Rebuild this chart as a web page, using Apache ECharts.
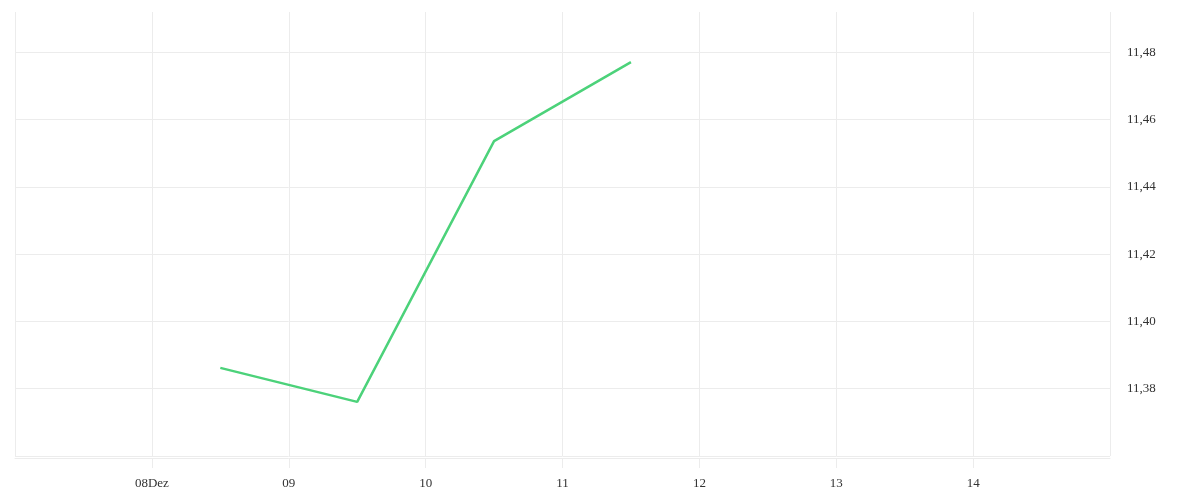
<!DOCTYPE html>
<html>
<head>
<meta charset="utf-8">
<script src="https://cdn.jsdelivr.net/npm/echarts@6/dist/echarts.min.js"></script>
<style>html,body{margin:0;padding:0;background:#fff}#c{width:1200px;height:500px}</style>
</head>
<body>
<div id="c"></div>
<script>
const dates = ['2025-12-08T12:00:00Z', '2025-12-09T12:00:00Z', '2025-12-10T12:00:00Z', '2025-12-11T12:00:00Z'];
const prices = [11.3862, 11.3761, 11.4536, 11.4771];
const xStart = '2025-12-07T00:00:00Z';
const xEnd = '2025-12-15T00:00:00Z';
const monthName = 'Dez';

const DAY = 86400000;
const chart = echarts.init(document.getElementById('c'));
const font = 'Liberation Serif';
const grid = '#ececec';
const minX = Date.parse(xStart);
const firstLabel = minX + DAY;
chart.setOption({
  animation: false,
  grid: { left: 15, right: 90, top: 12, bottom: 44 },
  xAxis: {
    type: 'value',
    min: minX,
    max: Date.parse(xEnd),
    interval: DAY,
    offset: 2,
    axisLine: { show: true, lineStyle: { color: grid, width: 1 } },
    axisTick: { show: true, length: 10, lineStyle: { color: grid } },
    splitLine: { show: true, lineStyle: { color: grid, width: 1 } },
    axisLabel: {
      showMinLabel: false, showMaxLabel: false,
      margin: 19,
      color: '#333', fontFamily: font, fontSize: 13,
      formatter: function (v) {
        const d = new Date(v);
        const s = String(d.getUTCDate()).padStart(2, '0');
        return v === firstLabel ? s + monthName : s;
      }
    }
  },
  yAxis: {
    type: 'value',
    position: 'right',
    min: 11.36,
    max: 11.492,
    interval: 0.02,
    axisLine: { show: false },
    axisTick: { show: false },
    splitLine: { show: true, showMaxLine: false, lineStyle: { color: grid, width: 1 } },
    axisLabel: {
      showMinLabel: false, showMaxLabel: false,
      margin: 17,
      color: '#333', fontFamily: font, fontSize: 13,
      padding: [4, 0, 0, 0],
      formatter: function (v) { return v.toFixed(2).replace('.', ','); }
    }
  },
  series: [{
    type: 'line',
    data: dates.map((d, i) => [Date.parse(d), prices[i]]),
    showSymbol: false,
    symbol: 'none',
    lineStyle: { color: '#4cd27a', width: 2.5 },
    itemStyle: { color: '#4cd27a' }
  }]
});
</script>
</body>
</html>
